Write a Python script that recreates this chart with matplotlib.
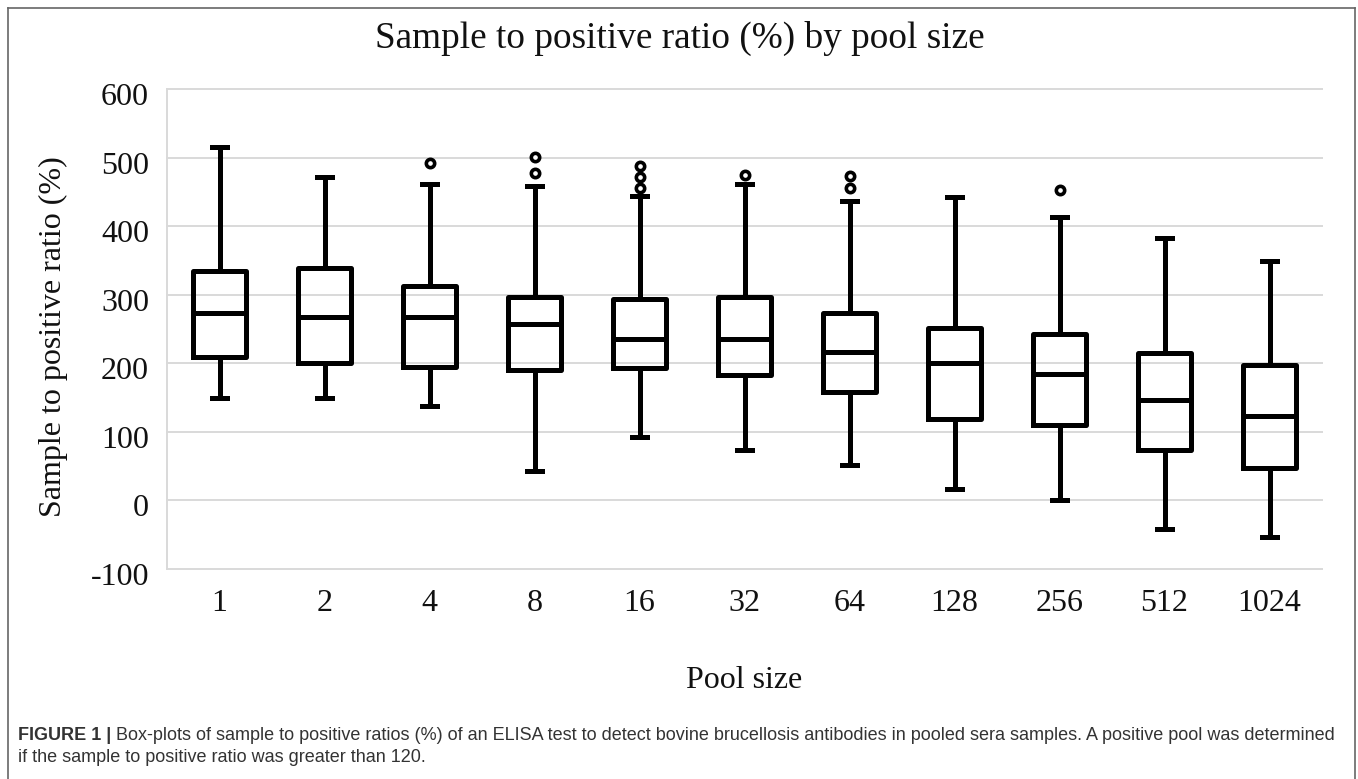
import matplotlib
matplotlib.use("Agg")
import matplotlib.pyplot as plt
from matplotlib.lines import Line2D
from matplotlib.transforms import ScaledTranslation

# ---- data ----
pool_sizes = ["1", "2", "4", "8", "16", "32", "64", "128", "256", "512", "1024"]
whisker_low = [150, 150, 137, 43, 93, 74, 52, 16, 0, -42, -54]
q1 = [209, 200, 195, 190, 193, 183, 158, 119, 110, 74, 48]
median = [274, 268, 268, 258, 235, 235, 216, 200, 185, 147, 123]
q3 = [334, 339, 313, 297, 294, 297, 274, 251, 242, 215, 197]
whisker_high = [516, 472, 461, 458, 444, 462, 436, 443, 413, 382, 349]
outliers = [[], [], [492], [501, 477], [488, 471, 455], [474], [473, 455], [], [452], [], []]

title = "Sample to positive ratio (%) by pool size"
ylabel = "Sample to positive ratio (%)"
xlabel = "Pool size"
yticks = [-100, 0, 100, 200, 300, 400, 500, 600]
caption_bold = "FIGURE 1 | "
caption_line1 = ("Box-plots of sample to positive ratios (%) of an ELISA test to detect bovine brucellosis "
                 "antibodies in pooled sera samples. A positive pool was determined")
caption_line2 = "if the sample to positive ratio was greater than 120."

W, H = 1358, 779
fig = plt.figure(figsize=(W / 100, H / 100), dpi=100)
fig.patch.set_facecolor("white")

serif = "Liberation Serif"
sans = "Liberation Sans"
txt_color = "#111111"

ax = fig.add_axes([167 / W, 1 - 569 / H, (1322 - 167) / W, (569 - 89) / H])

stats = []
for i in range(len(pool_sizes)):
    stats.append(dict(med=median[i], q1=q1[i], q3=q3[i],
                      whislo=whisker_low[i], whishi=whisker_high[i],
                      fliers=outliers[i], label=pool_sizes[i]))

lw = 3.6
ax.bxp(stats, positions=range(len(pool_sizes)), widths=0.5, capwidths=0.15,
       showfliers=True, patch_artist=False,
       boxprops=dict(color="black", linewidth=lw),
       whiskerprops=dict(color="black", linewidth=lw),
       capprops=dict(color="black", linewidth=lw),
       medianprops=dict(color="black", linewidth=lw),
       flierprops=dict(marker="o", markerfacecolor="white", markeredgecolor="black",
                       markersize=6, markeredgewidth=2.6, linestyle="none"))

ax.set_xlim(-0.5, len(pool_sizes) - 0.5)
ax.set_ylim(-100, 600)
for yv in yticks:
    ax.axhline(yv, color="#d9d9d9", linewidth=1.4, zorder=0, clip_on=False)
for s in ["top", "right", "bottom"]:
    ax.spines[s].set_visible(False)
ax.spines["left"].set_color("#d9d9d9")
ax.spines["left"].set_linewidth(1.4)
ax.set_yticks(yticks)
ax.set_yticklabels([str(v) for v in yticks])
ax.set_xticks(range(len(pool_sizes)))
ax.set_xticklabels(pool_sizes)
ax.tick_params(axis="both", length=0, labelsize=23)
ax.tick_params(axis="y", pad=13)
ax.tick_params(axis="x", pad=14.5)
shift = ScaledTranslation(0, -5 / 100, fig.dpi_scale_trans)
for lab in ax.get_yticklabels():
    lab.set_transform(lab.get_transform() + shift)
for lab in ax.get_xticklabels() + ax.get_yticklabels():
    lab.set_fontfamily(serif)
    lab.set_color(txt_color)

fig.text(680 / W, 1 - 38 / H, title, ha="center", va="center", fontsize=26.8,
         family=serif, color=txt_color)
fig.text(53 / W, 1 - 337 / H, ylabel, ha="center", va="center", rotation=90,
         fontsize=23, family=serif, color=txt_color)
fig.text(744 / W, 1 - 681 / H, xlabel, ha="center", va="center", fontsize=23,
         family=serif, color=txt_color)

# caption
cap_color = "#333333"
cap_size = 13.0
y1 = 1 - 735 / H
y2 = 1 - 758 / H
tb = fig.text(18 / W, y1, caption_bold, ha="left", va="center", fontsize=cap_size,
              family=sans, fontweight="bold", color=cap_color)
renderer = fig.canvas.get_renderer()
bb = tb.get_window_extent(renderer=renderer)
fig.text(bb.x1 / W, y1, caption_line1, ha="left", va="center", fontsize=cap_size,
         family=sans, color=cap_color)
fig.text(18 / W, y2, caption_line2, ha="left", va="center", fontsize=cap_size,
         family=sans, color=cap_color)

# outer frame (top, left, right)
frame_color = "#666666"
fig.add_artist(Line2D([8 / W, 1355 / W], [1 - 8 / H, 1 - 8 / H], color=frame_color,
                      linewidth=1.2, transform=fig.transFigure))
fig.add_artist(Line2D([8 / W, 8 / W], [1 - 8 / H, 0], color=frame_color,
                      linewidth=1.2, transform=fig.transFigure))
fig.add_artist(Line2D([1355 / W, 1355 / W], [1 - 8 / H, 0], color=frame_color,
                      linewidth=1.2, transform=fig.transFigure))

fig.savefig("out.png", dpi=100)
